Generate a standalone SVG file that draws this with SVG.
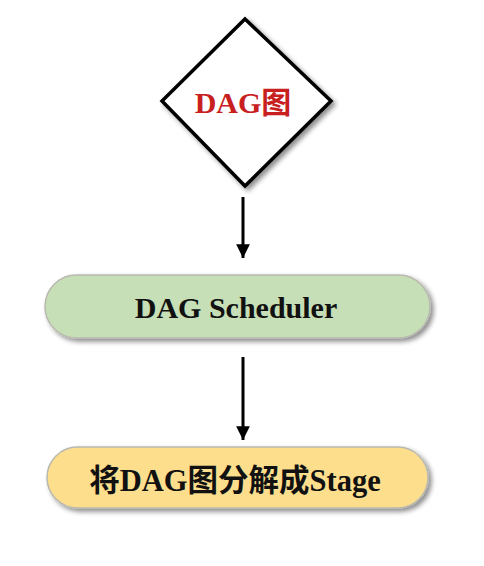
<svg xmlns="http://www.w3.org/2000/svg" width="484" height="566" viewBox="0 0 484 566">
<style>
.lbl{font-family:"Liberation Serif","Noto Sans CJK SC",serif;font-weight:bold;text-anchor:middle}
.pill{stroke:#b9b9b0;stroke-width:1.5}
.conn{stroke:#000;stroke-width:3;fill:none}
</style>
<defs>
<filter id="sh" x="-20%" y="-30%" width="140%" height="170%">
<feGaussianBlur in="SourceAlpha" stdDeviation="2.5"/>
<feOffset dx="3" dy="3" result="b"/>
<feComponentTransfer><feFuncA type="linear" slope="0.45"/></feComponentTransfer>
<feMerge><feMergeNode/><feMergeNode in="SourceGraphic"/></feMerge>
</filter>
<marker id="ah" viewBox="0 0 10 10" refX="10" refY="5" markerWidth="4.6" markerHeight="4.6" orient="auto" markerUnits="strokeWidth">
<path d="M0,0 L10,5 L0,10 z" fill="#000"/>
</marker>
</defs>
<rect width="484" height="566" fill="#fff"/>
<g id="dag">
<polygon points="245,19 331,101 245,186 162,101" fill="#fff" stroke="#000" stroke-width="3.5" filter="url(#sh)"/>
<text class="lbl" x="243" y="113" font-size="30" fill="#c8201e">DAG图</text>
</g>
<g id="scheduler">
<rect class="pill" x="45" y="275" width="385" height="63" rx="31.5" fill="#c6dfb6" filter="url(#sh)"/>
<text class="lbl" x="236" y="318" font-size="30" fill="#111">DAG Scheduler</text>
</g>
<g id="stage">
<rect class="pill" x="47" y="447" width="381" height="61" rx="30.5" fill="#fcde8c" filter="url(#sh)"/>
<text class="lbl" x="235" y="491" font-size="30.5" fill="#111">将DAG图分解成Stage</text>
</g>
<g id="connectors">
<line class="conn" x1="243" y1="197" x2="243" y2="258" marker-end="url(#ah)"/>
<line class="conn" x1="243" y1="357" x2="243" y2="440" marker-end="url(#ah)"/>
</g>
</svg>
